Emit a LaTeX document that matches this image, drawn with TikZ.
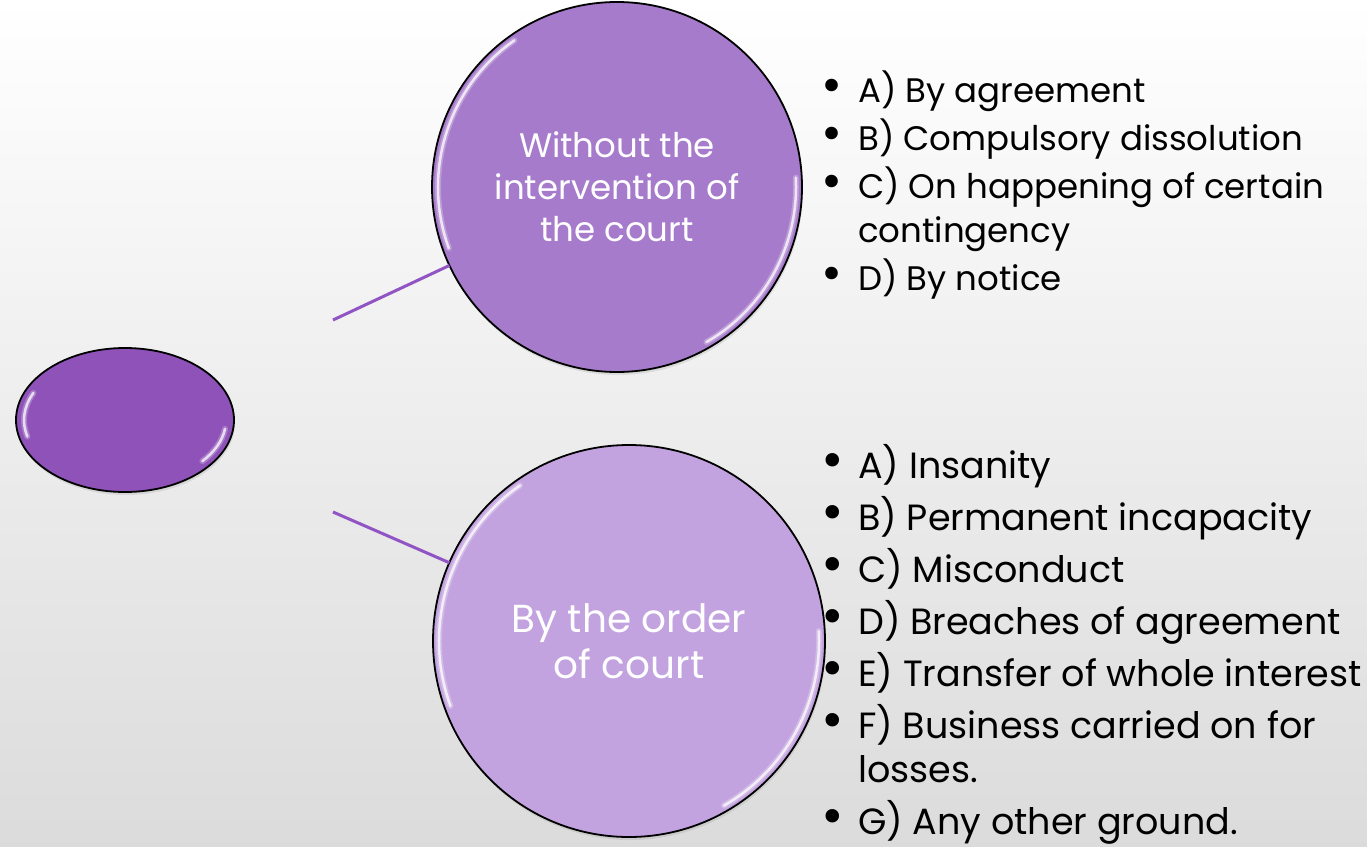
\documentclass[tikz,border=0pt]{standalone}
\usepackage{fontspec}
\setmainfont{Poppins}
\definecolor{rootpurple}{RGB}{142,82,185}
\definecolor{bubbletop}{RGB}{167,123,203}
\definecolor{bubblelow}{RGB}{195,163,223}
\definecolor{linkpurple}{RGB}{145,84,196}
\usetikzlibrary{shapes.geometric,shadows}

\newcommand{\bul}{\makebox[37pt][l]{\scalebox{1.5}{\textbullet}}}
\newcommand{\itm}[1]{\bul & \smash{#1}}
\newcommand{\cnt}[1]{& \smash{#1}}

\tikzset{
  bubble/.style={circle,draw=black,line width=1.8pt,inner sep=0pt,outer sep=0pt,
    text=white,align=center,drop shadow={opacity=0.18,shadow xshift=1pt,shadow yshift=-3pt}},
  rootnode/.style={ellipse,draw=black,line width=1.8pt,fill=rootpurple,
    minimum width=218pt,minimum height=144pt,inner sep=0pt,outer sep=0pt,
    drop shadow={opacity=0.18,shadow xshift=1pt,shadow yshift=-3pt}},
  link/.style={linkpurple,line width=3pt},
  glow/.style={white,line width=6pt,opacity=0.25,line cap=round},
  gloss/.style={white,line width=2.5pt,opacity=0.75,line cap=round},
  listbox/.style={anchor=base west,inner sep=0pt}
}

\begin{document}
\begin{tikzpicture}[x=1pt,y=-1pt]
  % background
  \shade[top color=white,bottom color=black!14] (0,0) rectangle (1367,846);
  \useasboundingbox (0,0) rectangle (1367,846);

  % shapes
  \node[rootnode] (root) at (125,420) {};
  \node[bubble,fill=bubbletop,minimum size=370pt,font=\fontsize{34}{42}\selectfont]
    (nocourt) at (617,187) {Without the\\intervention of\\the court};
  \node[bubble,fill=bubblelow,minimum size=392pt,font=\fontsize{39}{46}\selectfont]
    (bycourt) at (629,641) {By the order\\of court};

  % gloss
  \foreach \sty in {glow,gloss} {
    \draw[\sty] (root.center) ++(155:101pt and 64pt) arc[start angle=155,end angle=195,x radius=101pt,y radius=64pt];
    \draw[\sty] (root.center) ++(-40:101pt and 64pt) arc[start angle=-40,end angle=-8,x radius=101pt,y radius=64pt];
    \draw[\sty] (nocourt.center) ++(125:179pt) arc[start angle=125,end angle=200,radius=179pt];
    \draw[\sty] (nocourt.center) ++(-60:179pt) arc[start angle=-60,end angle=3,radius=179pt];
    \draw[\sty] (bycourt.center) ++(125:190pt) arc[start angle=125,end angle=200,radius=190pt];
    \draw[\sty] (bycourt.center) ++(-60:190pt) arc[start angle=-60,end angle=3,radius=190pt];
  }

  % connectors
  \coordinate (up) at (333,320);
  \coordinate (down) at (333,512);
  \draw[link] (up) -- (nocourt);
  \draw[link] (down) -- (bycourt);

  % lists
  \node[listbox,font=\fontsize{34}{44}\selectfont] (waysA) at (821,102) {%
    \begin{tabular}[t]{@{}l@{}l@{}}
      \itm{A) By agreement}\\[4pt]
      \itm{B) Compulsory dissolution}\\[4pt]
      \itm{C) On happening of certain}\\
      \cnt{contingency}\\[4pt]
      \itm{D) By notice}
    \end{tabular}};
  \node[listbox,font=\fontsize{36.5}{44}\selectfont] (waysB) at (821,478) {%
    \begin{tabular}[t]{@{}l@{}l@{}}
      \itm{A) Insanity}\\[8pt]
      \itm{B) Permanent incapacity}\\[8pt]
      \itm{C) Misconduct}\\[8pt]
      \itm{D) Breaches of agreement}\\[8pt]
      \itm{E) Transfer of whole interest}\\[8pt]
      \itm{F) Business carried on for}\\
      \cnt{losses.}\\[8pt]
      \itm{G) Any other ground.}
    \end{tabular}};
\end{tikzpicture}
\end{document}
